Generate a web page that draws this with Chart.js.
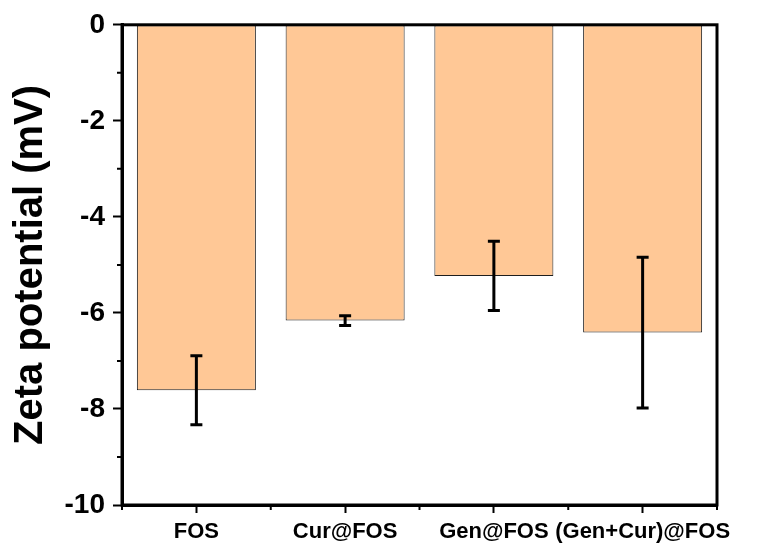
<!DOCTYPE html>
<html lang="en">
<head>
  <meta charset="UTF-8">
  <title>Zeta potential</title>
  <script src="https://cdn.jsdelivr.net/npm/chart.js"></script>
  <style>
    html, body { margin: 0; padding: 0; background: #fff; }
    canvas { display: block; }
  </style>
</head>
<body>
  <canvas id="graficoZeta" width="771" height="552"></canvas>

  <script>
    // samples and measured zeta potential (mV), mean and error
    const categories = ['FOS', 'Cur@FOS', 'Gen@FOS', '(Gen+Cur)@FOS'];
    const zeta = [-7.61, -6.16, -5.23, -6.41];
    const zetaErr = [0.72, 0.10, 0.72, 1.57];
    const yMajorTicks = [0, -2, -4, -6, -8, -10];
    const yMinorTicks = [-1, -3, -5, -7, -9];

    const fonte = 'Liberation Sans, Arial, Helvetica, sans-serif';

    // frame, minor ticks and error bars
    const extras = {
      id: 'extras',
      afterDatasetsDraw(chart) {
        const ctx = chart.ctx;
        const y = chart.scales.y;
        const meta = chart.getDatasetMeta(0);
        ctx.save();
        ctx.strokeStyle = '#000';
        ctx.lineWidth = 3;
        meta.data.forEach((bar, i) => {
          const yTop = y.getPixelForValue(zeta[i] + zetaErr[i]);
          const yBot = y.getPixelForValue(zeta[i] - zetaErr[i]);
          ctx.beginPath();
          ctx.moveTo(bar.x, yTop);
          ctx.lineTo(bar.x, yBot);
          ctx.moveTo(bar.x - 6, yTop);
          ctx.lineTo(bar.x + 6, yTop);
          ctx.moveTo(bar.x - 6, yBot);
          ctx.lineTo(bar.x + 6, yBot);
          ctx.stroke();
        });
        ctx.restore();
      },
      afterDraw(chart) {
        const ctx = chart.ctx;
        const a = chart.chartArea;
        const x = chart.scales.x;
        const y = chart.scales.y;
        ctx.save();
        ctx.strokeStyle = '#000';
        ctx.lineWidth = 3;
        ctx.strokeRect(a.left, a.top, a.right - a.left, a.bottom - a.top);

        ctx.lineWidth = 2;
        ctx.beginPath();
        yMinorTicks.forEach(v => {
          const py = y.getPixelForValue(v);
          ctx.moveTo(a.left - 5, py);
          ctx.lineTo(a.left, py);
        });
        for (let i = 0; i <= categories.length; i++) {
          const px = x.getPixelForValue(i - 0.5);
          ctx.moveTo(px, a.bottom);
          ctx.lineTo(px, a.bottom + 5);
        }
        ctx.stroke();
        ctx.restore();
      }
    };

    const ctx = document.getElementById('graficoZeta').getContext('2d');
    new Chart(ctx, {
      type: 'bar',
      data: {
        labels: categories,
        datasets: [{
          label: 'Zeta potential',
          data: zeta,
          backgroundColor: '#FFC896',
          borderColor: '#1e1e1e',
          borderWidth: 1,
          borderSkipped: false,
          barPercentage: 0.8,
          categoryPercentage: 1
        }]
      },
      options: {
        responsive: false,
        devicePixelRatio: 1,
        animation: false,
        layout: { padding: { top: 22, right: 54, left: 0, bottom: 0 } },
        plugins: {
          legend: { display: false },
          tooltip: { enabled: false }
        },
        scales: {
          x: {
            offset: true,
            grid: {
              offset: false,
              drawOnChartArea: false,
              tickLength: 8,
              tickWidth: 2,
              tickColor: '#000'
            },
            border: { display: true, width: 3, color: '#000' },
            ticks: {
              color: '#000',
              padding: 6,
              maxRotation: 0,
              autoSkip: false,
              font: { family: fonte, size: 22, weight: 'bold' }
            },
            afterFit(scale) { scale.height = 47; }
          },
          y: {
            min: -10,
            max: 0,
            afterBuildTicks(scale) {
              scale.ticks = yMajorTicks.map(v => ({ value: v }));
            },
            grid: {
              drawOnChartArea: false,
              tickLength: 9,
              tickWidth: 2,
              tickColor: '#000'
            },
            border: { display: true, width: 3, color: '#000' },
            ticks: {
              color: '#000',
              padding: 8,
              font: { family: fonte, size: 28, weight: 'bold' }
            },
            title: {
              display: true,
              text: 'Zeta potential (mV)',
              color: '#000',
              padding: { top: 7, bottom: 0 },
              font: { family: fonte, size: 40, weight: 'bold' }
            },
            afterFit(scale) { scale.width = 122; }
          }
        }
      },
      plugins: [extras]
    });
  </script>
</body>
</html>
